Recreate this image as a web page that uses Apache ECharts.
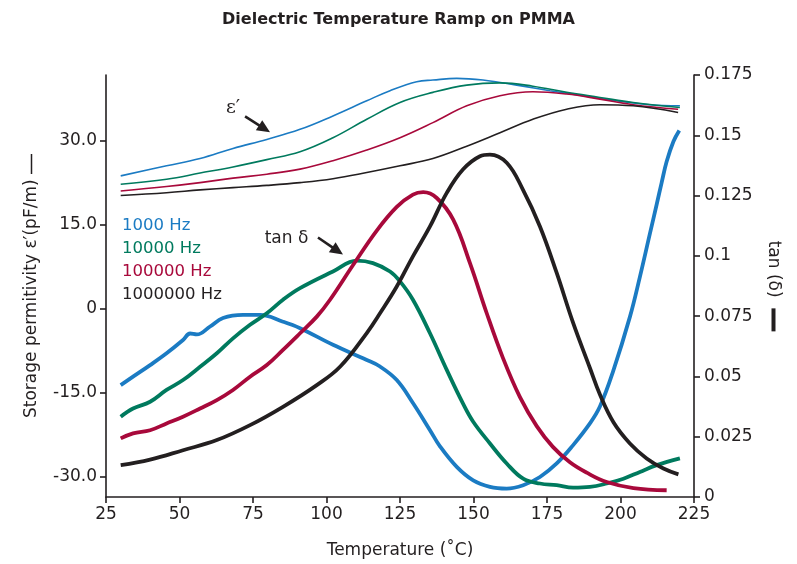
<!DOCTYPE html>
<html><head><meta charset="utf-8">
<script src="https://cdn.jsdelivr.net/npm/echarts@6/dist/echarts.min.js"></script>
<style>html,body{margin:0;padding:0;background:#fff}#c{width:797px;height:564px}</style>
</head><body><div id="c"></div>
<script>
// ---- data ----
const seriesNames = ['1000 Hz', '10000 Hz', '100000 Hz', '1000000 Hz'];
const seriesColors = ['#1b7bc3', '#007a5e', '#a8093b', '#231f20'];
const xTicks = [25, 50, 75, 100, 125, 150, 175, 200, 225];
const leftTicks = [-30, -15, 0, 15, 30];
const rightTicks = [0, 0.025, 0.05, 0.075, 0.1, 0.125, 0.15, 0.175];

// storage permittivity ε' (pF/m), left axis: [temperature, value]
const eps1000 = [[30,23.7],[45.6,25.5],[57,26.8],[68.2,28.6],[79.7,30.2],[91,32.0],[102.2,34.4],[113.7,37.1],[121.6,38.9],[130.7,40.5],[136.2,40.8],[144.3,41.1],[153.2,40.8],[164.7,39.9],[176,38.9],[187.2,38.0],[198.7,37.1],[210,36.4],[220.2,36.2]];
const eps10000 = [[30,22.2],[45.6,23.1],[57,24.2],[68.2,25.3],[79.7,26.6],[91,28.0],[102.2,30.5],[113.7,33.8],[125,36.8],[136.2,38.6],[147.7,39.9],[159,40.3],[170.2,39.7],[181.7,38.6],[193,37.7],[204.3,36.8],[220.2,35.9]];
const eps100000 = [[30,21.0],[45.6,21.8],[57,22.5],[68.2,23.3],[79.7,24.0],[91,24.9],[102.2,26.4],[113.7,28.3],[125,30.5],[136.2,33.2],[147.7,36.2],[159,38.0],[170.2,38.7],[181.7,38.3],[193,37.4],[204.3,36.4],[219.6,35.6]];
const eps1000000 = [[30,20.2],[45.6,20.7],[57,21.2],[68.2,21.6],[79.7,22.0],[91,22.5],[102.2,23.2],[113.7,24.3],[125,25.5],[136.2,26.8],[147.7,29.0],[159,31.4],[170.2,33.8],[181.7,35.6],[193,36.4],[204.3,36.2],[219.6,35.0]];

// tan δ, right axis: [temperature, value]
const tan1000 = [[30,0.0464],[34.2,0.0499],[40,0.0547],[45.6,0.0596],[51.2,0.0651],[53.6,0.0678],[55.9,0.0674],[60.4,0.0707],[64.8,0.0742],[71.6,0.0755],[77.4,0.0755],[85.2,0.0727],[91,0.0700],[102.2,0.0631],[113.7,0.0568],[118.2,0.0541],[123.9,0.0485],[129.4,0.0390],[135.2,0.0277],[138.6,0.0210],[144.3,0.0125],[149.9,0.0069],[155.6,0.0042],[161.3,0.0035],[166.9,0.0049],[172.6,0.0083],[178.3,0.0139],[183.9,0.0215],[189.6,0.0305],[193,0.0375],[197.4,0.0518],[203.2,0.0747],[206.6,0.0913],[210,0.1092],[212.3,0.1213],[214,0.1304],[215.7,0.1391],[218,0.1474],[220,0.1520]];
const tan10000 = [[30,0.0333],[34.2,0.0367],[40,0.0395],[45.6,0.0444],[51.2,0.0485],[57,0.0540],[62.7,0.0596],[68.2,0.0658],[74,0.0714],[79.7,0.0762],[85.2,0.0818],[91,0.0866],[102.2,0.0935],[110.3,0.0980],[115.8,0.0970],[121.6,0.0935],[125,0.0894],[129.4,0.0818],[135.2,0.0679],[140.9,0.0527],[146.4,0.0388],[149.9,0.0312],[155.6,0.0222],[161.3,0.0139],[166.9,0.0076],[172.6,0.0056],[178.3,0.0049],[183.9,0.0039],[189.6,0.0042],[195.3,0.0056],[201,0.0076],[206.6,0.0104],[212.3,0.0132],[220.2,0.0160]];
const tan100000 = [[30,0.0243],[34.2,0.0264],[40,0.0277],[45.6,0.0305],[51.2,0.0333],[57,0.0367],[62.7,0.0402],[68.2,0.0444],[74,0.0499],[79.7,0.0547],[85.2,0.0610],[91,0.0679],[96.7,0.0748],[101.2,0.0818],[109.1,0.0963],[117.1,0.1105],[123.9,0.1203],[129.4,0.1254],[132.9,0.1264],[137.5,0.1240],[143.1,0.1150],[148.8,0.0970],[154.5,0.0762],[160,0.0577],[165.8,0.0414],[171.5,0.0294],[177,0.0208],[182.8,0.0144],[188.5,0.0101],[195.3,0.0062],[204.4,0.0037],[215.7,0.0028]];
const tan1000000 = [[30,0.0132],[40,0.0155],[51.2,0.0194],[62.7,0.0236],[74,0.0298],[85.2,0.0374],[96.7,0.0464],[104.6,0.0540],[113.7,0.0680],[118.2,0.0762],[123.9,0.0873],[129.4,0.0998],[135.2,0.1122],[140.9,0.1261],[146.4,0.1358],[152.2,0.1413],[155.6,0.1420],[161.3,0.1386],[166.8,0.1275],[172.6,0.1122],[178.3,0.0929],[183.8,0.0725],[189.6,0.0535],[193,0.0425],[197.6,0.0310],[203.2,0.0222],[208.9,0.0160],[214.6,0.0118],[219.7,0.0094]];

// annotations (data coordinates on the ε' axis)
const annotations = [
  {text: 'ε′', at: [68.2, 35.8], from: [72.3, 34.3], to: [80.8, 31.5], serif: true},
  {text: 'tan δ', at: [86.4, 12.5], from: [97.1, 12.7], to: [105.6, 9.66], serif: false}
];

// ---- chart ----
const FONT = 'DejaVu Sans';
const INK = '#231f20';
const chart = echarts.init(document.getElementById('c'), null, {renderer: 'canvas'});
const epsSets = [eps1000, eps10000, eps100000, eps1000000];
const tanSets = [tan1000, tan10000, tan100000, tan1000000];
const series = [];
epsSets.forEach((d, i) => series.push({
  name: seriesNames[i], type: 'line', yAxisIndex: 0, data: d, showSymbol: false, symbol: 'none',
  smooth: 0.4, lineStyle: {width: 1.6, color: seriesColors[i]}, itemStyle: {color: seriesColors[i]}, z: 3
}));
tanSets.forEach((d, i) => series.push({
  name: seriesNames[i], type: 'line', yAxisIndex: 1, data: d, showSymbol: false, symbol: 'none',
  smooth: 0.4, lineStyle: {width: 3.8, color: seriesColors[i]}, itemStyle: {color: seriesColors[i]}, z: 2
}));

const axisCommon = {
  axisLine: {show: true, onZero: false, lineStyle: {color: INK, width: 1.6}},
  axisTick: {show: true, length: 6, lineStyle: {color: INK, width: 1.6}},
  axisLabel: {color: INK, fontFamily: FONT, fontSize: 17},
  splitLine: {show: false},
  nameTextStyle: {color: INK, fontFamily: FONT, fontSize: 17}
};

const option = {
  animation: false,
  backgroundColor: '#fff',
  title: {
    text: 'Dielectric Temperature Ramp on PMMA', left: 'center', top: 7,
    textStyle: {fontFamily: FONT, fontWeight: 'bold', fontSize: 16, color: INK}
  },
  grid: {left: 106, right: 103, top: 75, bottom: 67},
  legend: {
    orient: 'vertical', left: 112, top: 212, itemWidth: 0, itemHeight: 14, itemGap: 6, icon: 'rect',
    selectedMode: false,
    data: seriesNames.map((n, i) => ({name: n, itemStyle: {opacity: 0}, textStyle: {color: seriesColors[i]}})),
    textStyle: {fontFamily: FONT, fontSize: 16.5}
  },
  xAxis: Object.assign({}, axisCommon, {
    type: 'value', min: 25, max: 225, interval: 25,
    name: 'Temperature (˚C)', nameLocation: 'middle', nameGap: 45,
    axisLabel: Object.assign({}, axisCommon.axisLabel, {margin: 9, showMinLabel: true, showMaxLabel: true})
  }),
  yAxis: [
    Object.assign({}, axisCommon, {
      type: 'value', position: 'left', min: -33.6, max: 41.7,
      name: 'Storage permitivity ε′(pF/m) {d|}', nameLocation: 'middle', nameGap: 66, nameRotate: 90,
      nameTextStyle: Object.assign({}, axisCommon.nameTextStyle, {
        rich: {d: {width: 20, height: 1.5, backgroundColor: INK}}
      }),
      axisTick: Object.assign({}, axisCommon.axisTick, {customValues: leftTicks}),
      axisLabel: Object.assign({}, axisCommon.axisLabel, {
        margin: 9, customValues: leftTicks,
        formatter: v => (Math.abs(v) < 1e-9 ? '0' : Number(v).toFixed(1))
      })
    }),
    Object.assign({}, axisCommon, {
      type: 'value', position: 'right', min: 0, max: 0.175, interval: 0.025,
      name: 'tan (δ)  {b|}', nameLocation: 'middle', nameGap: 71, nameRotate: -90,
      nameTextStyle: Object.assign({}, axisCommon.nameTextStyle, {
        rich: {b: {width: 23, height: 4, backgroundColor: INK}}
      }),
      axisLabel: Object.assign({}, axisCommon.axisLabel, {
        margin: 10, formatter: v => String(+Number(v).toFixed(3))
      })
    })
  ],
  series
};
chart.setOption(option);

// annotation text + arrows, positioned through the axes
const g = [];
annotations.forEach(a => {
  const pt = chart.convertToPixel({xAxisIndex: 0, yAxisIndex: 0}, a.at);
  const p1 = chart.convertToPixel({xAxisIndex: 0, yAxisIndex: 0}, a.from);
  const p2 = chart.convertToPixel({xAxisIndex: 0, yAxisIndex: 0}, a.to);
  g.push({type: 'text', x: pt[0], y: pt[1], z: 10, style: {
    text: a.text, fill: INK, fontSize: a.serif ? 19 : 17,
    fontFamily: a.serif ? 'DejaVu Serif' : FONT, align: 'center', verticalAlign: 'middle'
  }});
  const dx = p2[0] - p1[0], dy = p2[1] - p1[1];
  const len = Math.hypot(dx, dy), ux = dx / len, uy = dy / len;
  const hl = 13, hw = 6;
  const bx = p2[0] - ux * hl, by = p2[1] - uy * hl;
  g.push({type: 'line', z: 10, shape: {x1: p1[0], y1: p1[1], x2: bx + ux * 2, y2: by + uy * 2},
    style: {stroke: INK, lineWidth: 2.6}});
  g.push({type: 'polygon', z: 10, shape: {points: [
    [p2[0], p2[1]], [bx - uy * hw, by + ux * hw], [bx + uy * hw, by - ux * hw]
  ]}, style: {fill: INK}});
});
chart.setOption({graphic: g});
</script>
</body></html>
